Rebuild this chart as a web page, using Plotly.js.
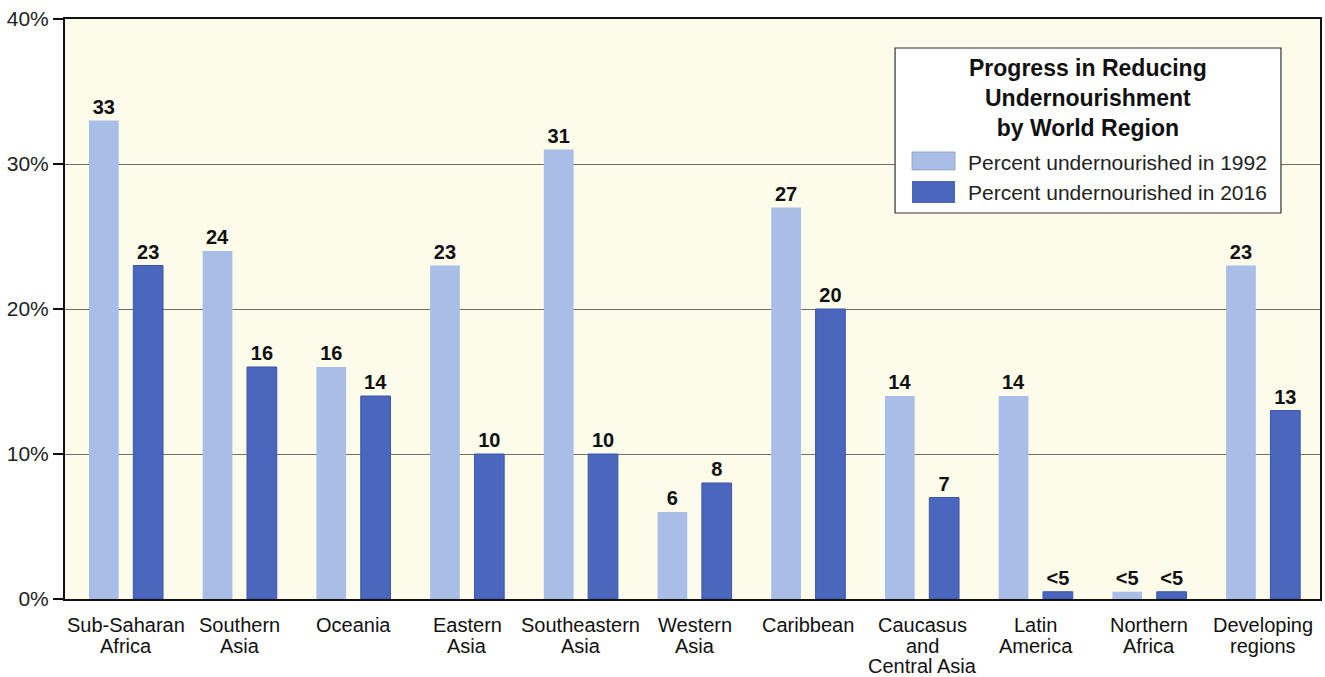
<!DOCTYPE html>
<html>
<head>
<meta charset="utf-8">
<script src="https://cdn.plot.ly/plotly-3.0.1.min.js"></script>
<style>html,body{margin:0;padding:0;background:#fff;}#chart{width:1325px;height:677px;}</style>
</head>
<body>
<div id="chart"></div>
<script>
const categories = ["Sub-Saharan Africa","Southern Asia","Oceania","Eastern Asia","Southeastern Asia","Western Asia","Caribbean","Caucasus and Central Asia","Latin America","Northern Africa","Developing regions"];
const categoryLines = [["Sub-Saharan","Africa"],["Southern","Asia"],["Oceania"],["Eastern","Asia"],["Southeastern","Asia"],["Western","Asia"],["Caribbean"],["Caucasus","and","Central Asia"],["Latin","America"],["Northern","Africa"],["Developing","regions"]];
const values1992 = [33,24,16,23,31,6,27,14,14,0.5,23];
const values2016 = [23,16,14,10,10,8,20,7,0.5,0.5,13];
const labels1992 = ["33","24","16","23","31","6","27","14","14","<5","23"];
const labels2016 = ["23","16","14","10","10","8","20","7","<5","<5","13"];
const seriesNames = ["Percent undernourished in 1992","Percent undernourished in 2016"];
const seriesColors = ["#a8bee7","#4a67bd"];
const legendTitle = "Progress in Reducing<br>Undernourishment<br>by World Region";
const yTickVals = [0,10,20,30,40];
const yTickText = ["0%","10%","20%","30%","40%"];

const FONT = "Liberation Sans, Arial, Helvetica, sans-serif";
const labelFont = {family:FONT, size:20, color:"#111", weight:"bold"};

const traces = [
  {type:"bar", name:seriesNames[0], x:categories, y:values1992,
   text:labels1992, textposition:"outside", textfont:labelFont, cliponaxis:false,
   marker:{color:seriesColors[0], line:{width:0}}},
  {type:"bar", name:seriesNames[1], x:categories, y:values2016,
   text:labels2016, textposition:"outside", textfont:labelFont, cliponaxis:false,
   marker:{color:seriesColors[1], line:{color:"#3b56a8", width:1}}}
];

const annotations = [];
categoryLines.forEach((lines, i) => {
  lines.forEach((ln, j) => {
    annotations.push({x:categories[i], y:0, xref:"x", yref:"y", text:ln, showarrow:false,
      xanchor:"center", yanchor:"middle", yshift:-(26 + j*20.5),
      font:{family:FONT, size:20, color:"#111"}});
  });
});
// legend (manual box)
annotations.push({x:0.8151, y:0.8638, xref:"paper", yref:"paper", text:"<b>"+legendTitle+"</b>",
  showarrow:false, xanchor:"center", yanchor:"middle", align:"center",
  font:{family:FONT, size:23, color:"#111"}});
const legendTextY = [0.7534, 0.7017];
seriesNames.forEach((n, k) => {
  annotations.push({x:0.7179, y:legendTextY[k], xref:"paper", yref:"paper", text:n,
    showarrow:false, xanchor:"left", yanchor:"middle",
    font:{family:FONT, size:21, color:"#222"}});
});

const shapes = [
  {type:"rect", xref:"paper", yref:"paper", x0:0.6614, x1:0.9689, y0:0.6655, y1:0.95,
   fillcolor:"#ffffff", line:{color:"#333", width:1.2}, layer:"above"},
  {type:"rect", xref:"paper", yref:"paper", x0:0.6749, x1:0.7092, y0:0.7397, y1:0.7707,
   fillcolor:seriesColors[0], line:{color:"#8f9fbf", width:0.8}, layer:"above"},
  {type:"rect", xref:"paper", yref:"paper", x0:0.6749, x1:0.7092, y0:0.6828, y1:0.7207,
   fillcolor:seriesColors[1], line:{width:0}, layer:"above"}
];

const layout = {
  width:1325, height:677,
  margin:{l:65, r:5, t:19, b:78},
  paper_bgcolor:"#ffffff",
  plot_bgcolor:"#fdfbea",
  font:{family:FONT, color:"#111"},
  barmode:"group",
  bargap:0.22,
  bargroupgap:0.33,
  showlegend:false,
  annotations:annotations,
  shapes:shapes,
  xaxis:{
    showticklabels:false,
    showline:true, linecolor:"#111", linewidth:2, mirror:true,
    ticks:"", showgrid:false
  },
  yaxis:{
    range:[0,40], tickvals:yTickVals, ticktext:yTickText,
    tickfont:{family:FONT, size:21, color:"#222"},
    ticks:"outside", ticklen:10, tickcolor:"#111", tickwidth:1.5,
    showline:true, linecolor:"#111", linewidth:2, mirror:true,
    showgrid:true, gridcolor:"#6f6f6a", gridwidth:1,
    zeroline:false
  }
};

Plotly.newPlot("chart", traces, layout, {displayModeBar:false, staticPlot:true});
</script>
</body>
</html>
